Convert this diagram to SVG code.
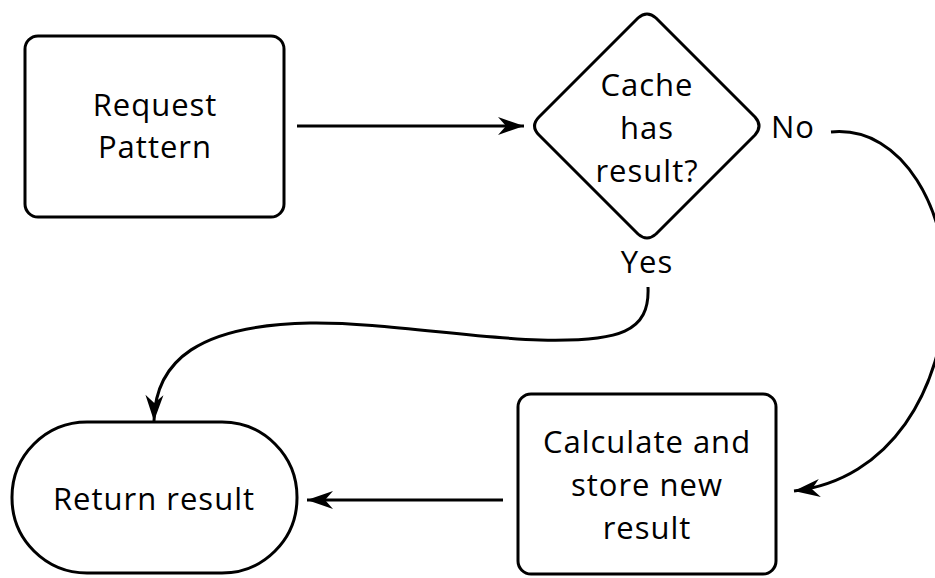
<svg xmlns="http://www.w3.org/2000/svg" width="935" height="578" viewBox="0 0 935 578">
<defs>
<style>
.shape{fill:#fff;stroke:#000;stroke-width:3;stroke-linejoin:round}
.edge{fill:none;stroke:#000;stroke-width:3}
text{font-family:"Open Sans","DejaVu Sans",sans-serif;font-size:31px;letter-spacing:1px;fill:#000;text-anchor:middle}
</style>
<marker id="ah" markerUnits="userSpaceOnUse" markerWidth="30" markerHeight="24" viewBox="-27 -12 30 24" refX="0" refY="0" orient="auto">
<path d="M0,0 L-26,-9 L-18,0 L-26,9 Z" fill="#000"/>
</marker>
</defs>
<rect width="935" height="578" fill="#fff"/>
<g id="request">
<rect class="shape" x="25" y="36" width="259" height="181" rx="13"/>
<text x="155" y="116">Request</text>
<text x="155" y="158">Pattern</text>
</g>
<g id="cache">
<path class="shape" d="M638,18 Q647,10 656,18 L755,117 Q763,126 755,135 L656,234 Q647,242 638,234 L539,135 Q530,126 539,117 Z"/>
<text x="647" y="96">Cache</text>
<text x="647" y="139">has</text>
<text x="647" y="182">result?</text>
</g>
<g id="calculate">
<rect class="shape" x="518" y="394" width="258" height="180" rx="13"/>
<text x="647" y="453">Calculate and</text>
<text x="647" y="496">store new</text>
<text x="647" y="539">result</text>
</g>
<g id="return">
<rect class="shape" x="12" y="422" width="285" height="151" rx="75"/>
<text x="154" y="510">Return result</text>
</g>
<g id="connectors">
<path class="edge" d="M297,126 L524,126" marker-end="url(#ah)"/>
<path class="edge" d="M831,132 C905,125 948,215 946,290 C944,390 890,480 794,491" marker-end="url(#ah)"/>
<path class="edge" d="M648,287 C650,332 620,342 540,340 C470,338 380,322 310,323 C200,325 155,360 154,421" marker-end="url(#ah)"/>
<path class="edge" d="M503,500 L307,500" marker-end="url(#ah)"/>
<text x="771" y="138" style="text-anchor:start">No</text>
<text x="647" y="273">Yes</text>
</g>
</svg>
